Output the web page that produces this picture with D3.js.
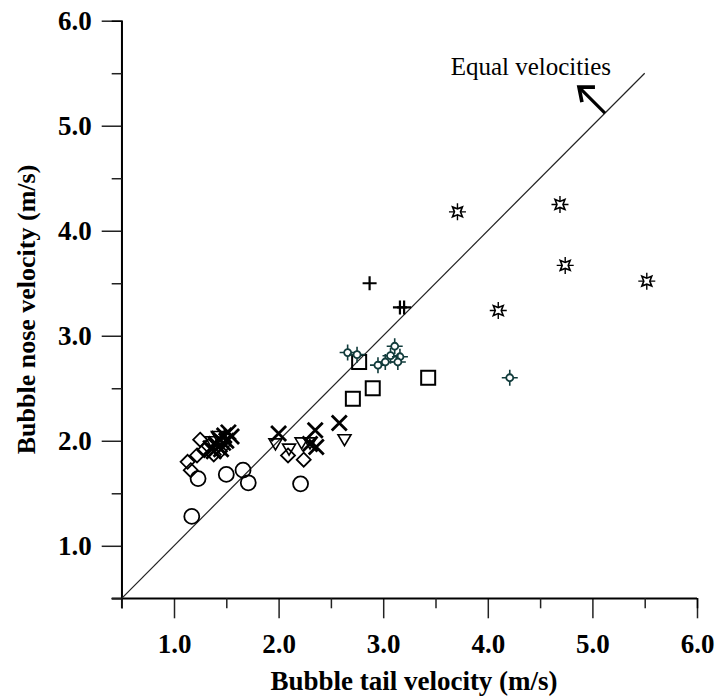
<!DOCTYPE html>
<html>
<head>
<meta charset="utf-8">
<script src="https://cdn.jsdelivr.net/npm/d3@7/dist/d3.min.js"></script>
<style>
  html, body { margin: 0; padding: 0; background: #fff; }
  svg { display: block; }
  text { font-family: "Liberation Serif", "Times New Roman", serif; }
</style>
</head>
<body>
<svg id="chart" width="717" height="700"></svg>
<script>
// ---- data ----
const xTicks = [1.0, 2.0, 3.0, 4.0, 5.0, 6.0];
const yTicks = [1.0, 2.0, 3.0, 4.0, 5.0, 6.0];
const minorTicks = [0.5, 1.5, 2.5, 3.5, 4.5, 5.5];
const xTitle = "Bubble tail velocity (m/s)";
const yTitle = "Bubble nose velocity (m/s)";
const annotation = "Equal velocities";
const equalLine = [[0.5, 0.5], [5.5, 5.5]];
const arrowBase = [5.12, 5.12];

const circles = [[1.17,1.28],[1.23,1.64],[1.50,1.68],[1.66,1.72],[1.71,1.60],[2.21,1.59]];
const diamonds = [[1.13,1.80],[1.16,1.72],[1.22,1.86],[1.25,2.01],[1.29,1.91],[1.33,1.95],[1.38,1.87],[1.44,1.90],[2.09,1.86],[2.24,1.82]];
const triangles = [[1.36,1.99],[1.42,2.04],[1.48,1.93],[1.97,1.97],[2.10,1.92],[2.22,1.98],[2.30,1.98],[2.63,2.01]];
const crosses = [[2.00,2.07],[2.35,2.10],[2.36,1.94],[2.30,1.97],[2.58,2.17],
                 [1.35,1.93],[1.40,1.97],[1.43,2.02],[1.45,1.92],[1.48,2.05],[1.50,2.00],
                 [1.52,2.08],[1.55,2.04],[1.47,1.98],[1.38,1.90]];
const squares = [[2.71,2.40],[2.90,2.50],[2.77,2.75],[3.43,2.60]];
const pluses = [[2.87,3.50],[3.16,3.27],[3.20,3.27]];
const tealMarks = [[2.66,2.84],[2.75,2.82],[2.95,2.72],[3.02,2.75],[3.07,2.81],[3.11,2.90],[3.16,2.80],[3.14,2.75],[4.21,2.60]];
const stars = [[3.71,4.18],[4.69,4.25],[4.74,3.67],[5.52,3.52],[4.10,3.24]];

// ---- layout ----
const svg = d3.select("#chart");
const x = d3.scaleLinear().domain([0.5, 6.0]).range([121.7, 697]);
const y = d3.scaleLinear().domain([0.5, 6.0]).range([598.3, 20.7]);
const ink = "#000";

// axes
const xAxis = d3.axisBottom(x).tickValues(xTicks).tickSize(20).tickFormat(d3.format(".1f"));
const yAxis = d3.axisLeft(y).tickValues(yTicks).tickSize(20).tickFormat(d3.format(".1f"));
const gx = svg.append("g").attr("transform", `translate(0,${y(0.5)})`).call(xAxis);
const gy = svg.append("g").attr("transform", `translate(${x(0.5)},0)`).call(yAxis);
const gxm = svg.append("g").attr("transform", `translate(0,${y(0.5)})`)
  .call(d3.axisBottom(x).tickValues(minorTicks).tickSize(10).tickFormat(""));
const gym = svg.append("g").attr("transform", `translate(${x(0.5)},0)`)
  .call(d3.axisLeft(y).tickValues(minorTicks).tickSize(10).tickFormat(""));
[gx, gy, gxm, gym].forEach(g => {
  g.select(".domain").attr("stroke", ink).attr("stroke-width", 1.5);
  g.selectAll(".tick line").attr("stroke", "#222").attr("stroke-width", 1.5);
});
gx.selectAll(".tick text").attr("font-size", 27).attr("font-weight", "bold").attr("fill", ink)
  .attr("dy", "0.71em").attr("y", 36);
gy.selectAll(".tick text").attr("font-size", 27).attr("font-weight", "bold").attr("fill", ink)
  .attr("x", -30);
gx.select(".domain").attr("d", `M${x(0.5)-10},0H${x(6.0)}`);
gy.select(".domain").attr("d", `M0,${y(0.5)+10}V${y(6.0)}`);

// titles
svg.append("text").attr("x", 414).attr("y", 690)
  .attr("text-anchor", "middle").attr("font-size", 27).attr("font-weight", "bold").text(xTitle);
svg.append("text").attr("transform", `translate(35,${(y(0.5)+y(6.0))/2}) rotate(-90)`)
  .attr("text-anchor", "middle").attr("font-size", 26).attr("font-weight", "bold").text(yTitle);

// equal line
const line = d3.line().x(d => x(d[0])).y(d => y(d[1]));
svg.append("path").attr("d", line(equalLine)).attr("fill", "none").attr("stroke", "#222").attr("stroke-width", 1.2);

// annotation + arrow
svg.append("text").attr("x", 611).attr("y", 75).attr("text-anchor", "end")
  .attr("font-size", 25).text(annotation);
const bx = x(arrowBase[0]), by = y(arrowBase[1]);
const tx = bx - 26, ty = by - 26;
svg.append("path").attr("d", `M${bx},${by}L${tx+2},${ty+2}`)
  .attr("stroke", ink).attr("stroke-width", 3.2).attr("fill", "none");
svg.append("path").attr("d", `M${tx+16},${ty}L${tx},${ty}L${tx+3},${ty+15}`)
  .attr("stroke", ink).attr("stroke-width", 3.6).attr("fill", "none").attr("stroke-linejoin", "miter");

// markers
const g = svg.append("g");
const pos = d => `translate(${x(d[0])},${y(d[1])})`;

g.selectAll(".c").data(circles).join("circle").attr("transform", pos).attr("r", 7.5)
  .attr("fill", "none").attr("stroke", ink).attr("stroke-width", 1.8);
g.selectAll(".sq").data(squares).join("rect").attr("transform", pos)
  .attr("x", -7).attr("y", -7).attr("width", 14).attr("height", 14)
  .attr("fill", "none").attr("stroke", ink).attr("stroke-width", 2);
g.selectAll(".dm").data(diamonds).join("path").attr("transform", pos)
  .attr("d", "M0,-7L7,0L0,7L-7,0Z").attr("fill", "none").attr("stroke", ink).attr("stroke-width", 1.8);
g.selectAll(".tr").data(triangles).join("path").attr("transform", pos)
  .attr("d", "M-6.5,-5L6.5,-5L0,6Z").attr("fill", "none").attr("stroke", ink).attr("stroke-width", 1.6);
g.selectAll(".cr").data(crosses).join("path").attr("transform", pos)
  .attr("d", "M-7.5,-7.5L7.5,7.5M-7.5,7.5L7.5,-7.5").attr("stroke", ink).attr("stroke-width", 2.8);
g.selectAll(".pl").data(pluses).join("path").attr("transform", pos)
  .attr("d", "M-7,0H7M0,-7V7").attr("stroke", ink).attr("stroke-width", 2.2);
const teal = "#123c3c";
const tg = g.selectAll(".tl").data(tealMarks).join("g").attr("transform", pos);
tg.append("path").attr("d", "M-8,0H8M0,-8V8").attr("stroke", teal).attr("stroke-width", 1.6);
tg.append("circle").attr("r", 3.5).attr("fill", "#fff").attr("stroke", teal).attr("stroke-width", 1.8);
const sg = g.selectAll(".st").data(stars).join("g").attr("transform", pos);
const starPts = d3.range(8).map(i => {
  const a = i * Math.PI / 4 + Math.PI / 4;
  const r = i % 2 === 0 ? 7 : 3;
  return [r * Math.cos(a), r * Math.sin(a)];
});
sg.append("path").attr("d", "M0,-8.5V8.5M-8.5,0H8.5").attr("stroke", ink).attr("stroke-width", 1.4);
sg.append("path").attr("d", "M" + starPts.map(p => p.join(",")).join("L") + "Z")
  .attr("fill", "#fff").attr("stroke", ink).attr("stroke-width", 1.6);
</script>
</body>
</html>
